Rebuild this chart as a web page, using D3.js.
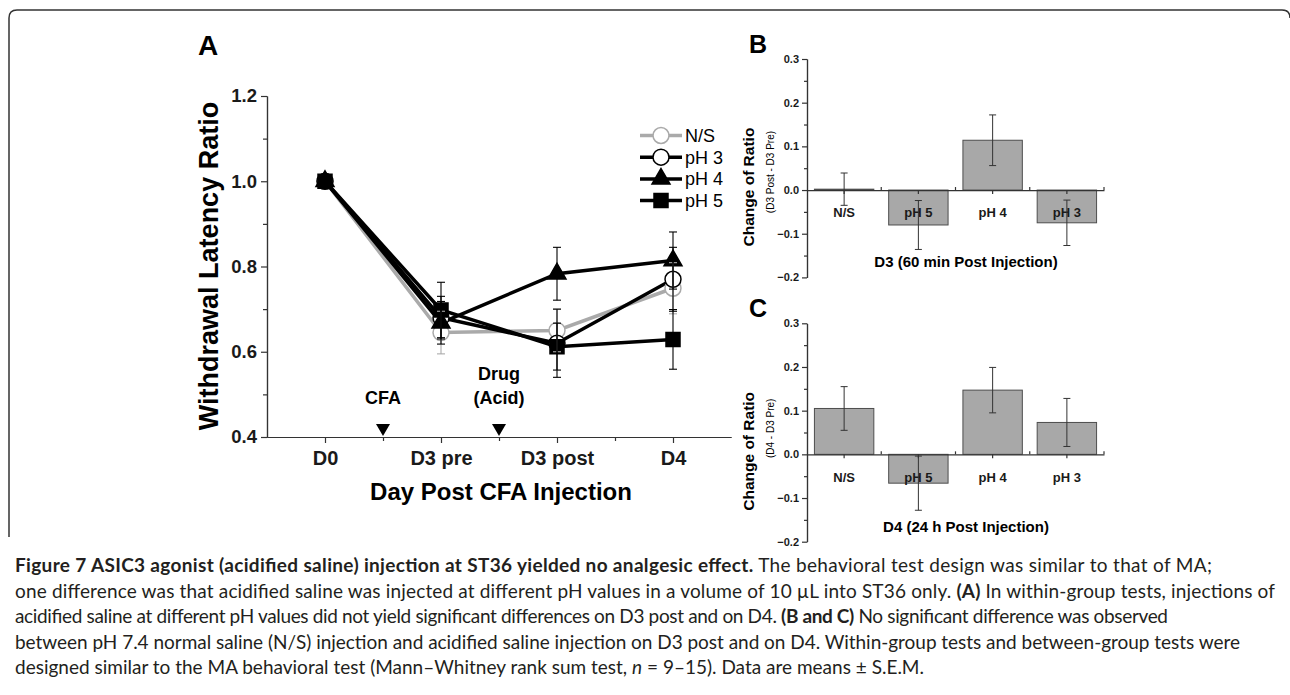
<!DOCTYPE html>
<html>
<head>
<meta charset="utf-8">
<script src="https://cdn.jsdelivr.net/npm/d3@7"></script>
<style>
body { margin: 0; background: #fff; }
svg { display: block; }
text { font-family: "Liberation Sans", Arial, sans-serif; }
.axis path, .axis line { stroke: #333; stroke-width: 1.2; }
.axis text { font-family: "Liberation Sans", Arial, sans-serif; font-weight: bold; fill: #1a1a1a; }
.caption text { font-family: Lato, "Open Sans", sans-serif; fill: #231f20; }
</style>
</head>
<body>
<svg id="fig" width="1290" height="695"></svg>
<script>
// Panel A: withdrawal latency ratio per day
const days = ["D0", "D3 pre", "D3 post", "D4"]
const groups = ["N/S", "pH 3", "pH 4", "pH 5"]
const nsMean  = [1.0, 0.645, 0.650, 0.749]
const nsErr   = [0.005, 0.050, 0.050, 0.060]
const ph3Mean = [1.0, 0.680, 0.620, 0.770]
const ph3Err  = [0.005, 0.050, 0.080, 0.075]
const ph4Mean = [1.0, 0.668, 0.783, 0.814]
const ph4Err  = [0.005, 0.050, 0.062, 0.067]
const ph5Mean = [1.0, 0.698, 0.612, 0.629]
const ph5Err  = [0.005, 0.065, 0.055, 0.070]
const yTicksA = [0.4, 0.6, 0.8, 1.0, 1.2]
const eventLabels = [["CFA"], ["Drug", "(Acid)"]]
const eventAt = [0.5, 1.5]

// Panels B and C: change of ratio per group
const barGroups = ["N/S", "pH 5", "pH 4", "pH 3"]
const d3ChangeMean = [0.002, -0.080, 0.114, -0.075]
const d3ChangeErr  = [0.037, 0.056, 0.058, 0.052]
const d4ChangeMean = [0.105, -0.066, 0.147, 0.073]
const d4ChangeErr  = [0.050, 0.062, 0.052, 0.055]
const yTicksBar = [-0.2, -0.1, 0.0, 0.1, 0.2, 0.3]

// caption lines (b = bold, r = regular, i = italic)
const captionLines = [
    [["b", "Figure 7 ASIC3 agonist (acidified saline) injection at ST36 yielded no analgesic effect."], ["r", " The behavioral test design was similar to that of MA;"]],
    [["r", "one difference was that acidified saline was injected at different pH values in a volume of 10 \u00b5L into ST36 only. "], ["b", "(A)"], ["r", " In within-group tests, injections of"]],
    [["r", "acidified saline at different pH values did not yield significant differences on D3 post and on D4. "], ["b", "(B and C)"], ["r", " No significant difference was observed"]],
    [["r", "between pH 7.4 normal saline (N/S) injection and acidified saline injection on D3 post and on D4. Within-group tests and between-group tests were"]],
    [["r", "designed similar to the MA behavioral test (Mann\u2013Whitney rank sum test, "], ["i", "n"], ["r", " = 9\u201315). Data are means \u00b1 S.E.M."]]
]
const captionEnd = [1273, 1275, 1148, 1240, 924]

const svg = d3.select("#fig")

// rounded frame around the figure
svg.append("path")
    .attr("d", "M9,537 V18 Q9,10 17,10 H1282 Q1290,10 1290,18")
    .attr("fill", "none").attr("stroke", "#333").attr("stroke-width", 1.5)

// ---------- Panel A ----------
const styles = {
    "N/S":  { color: "#aaaaaa", shape: d3.symbolCircle, size: 200, fill: "#fff" },
    "pH 3": { color: "#000", shape: d3.symbolCircle, size: 200, fill: "#fff" },
    "pH 4": { color: "#000", shape: d3.symbolTriangle, size: 140, fill: "#000" },
    "pH 5": { color: "#000", shape: d3.symbolSquare, size: 196, fill: "#000" },
}
const seriesA = [
    { name: "N/S", mean: nsMean, err: nsErr },
    { name: "pH 3", mean: ph3Mean, err: ph3Err },
    { name: "pH 4", mean: ph4Mean, err: ph4Err },
    { name: "pH 5", mean: ph5Mean, err: ph5Err },
]

const xA = d3.scaleLinear().domain([-0.5, 3.5]).range([267, 731])
const yA = d3.scaleLinear().domain([0.4, 1.2]).range([437, 96])
const gA = svg.append("g")

gA.append("g").attr("class", "axis").attr("transform", "translate(267,0)")
    .call(d3.axisLeft(yA).tickValues(d3.range(0.5, 1.2, 0.2)).tickSize(4).tickSizeOuter(0).tickFormat(""))
gA.append("g").attr("class", "axis").attr("transform", "translate(267,0)")
    .call(d3.axisLeft(yA).tickValues(yTicksA).tickSize(6).tickPadding(4).tickSizeOuter(0).tickFormat(d3.format(".1f")))
    .selectAll("text").style("font-size", "18.5px")

gA.append("g").attr("class", "axis").attr("transform", "translate(0,437)")
    .call(d3.axisBottom(xA).tickValues(eventAt.concat([2.5])).tickSize(4).tickSizeOuter(0).tickFormat(""))
gA.append("g").attr("class", "axis").attr("transform", "translate(0,437)")
    .call(d3.axisBottom(xA).tickValues(d3.range(days.length)).tickSize(6).tickPadding(8).tickSizeOuter(0).tickFormat(i => days[i]))
    .selectAll("text").style("font-size", "20px")

gA.append("text").attr("x", 501).attr("y", 500).attr("text-anchor", "middle")
    .style("font-size", "24px").style("font-weight", "bold").text("Day Post CFA Injection")
gA.append("text").attr("transform", "translate(218,266) rotate(-90)").attr("text-anchor", "middle")
    .style("font-size", "27px").style("font-weight", "bold").text("Withdrawal Latency Ratio")
gA.append("text").attr("x", 198).attr("y", 55)
    .style("font-size", "28px").style("font-weight", "bold").text("A")

// event arrows
eventAt.forEach((at, k) => {
    gA.append("path")
        .attr("d", d3.symbol(d3.symbolTriangle, 85)())
        .attr("transform", `translate(${xA(at)},428) rotate(180)`)
        .attr("fill", "#000")
    const lines = eventLabels[k]
    lines.forEach((t, j) => {
        gA.append("text").attr("x", xA(at)).attr("y", 404 - (lines.length - 1 - j) * 24)
            .attr("text-anchor", "middle").style("font-size", "18px").style("font-weight", "bold").text(t)
    })
})

const line = d3.line().x((d, i) => xA(i)).y(d => yA(d))
seriesA.forEach(s => {
    gA.append("path").datum(s.mean).attr("d", line)
        .attr("fill", "none").attr("stroke", styles[s.name].color).attr("stroke-width", 3.5)
})
seriesA.forEach(s => {
    const st = styles[s.name]
    gA.append("g").selectAll("path").data(s.mean).join("path")
        .attr("d", d3.symbol(st.shape, st.size)())
        .attr("transform", (d, i) => `translate(${xA(i)},${yA(d)})`)
        .attr("fill", st.fill).attr("stroke", st.color).attr("stroke-width", 1.5)
})
seriesA.forEach(s => {
    const col = styles[s.name].color
    const eb = gA.append("g").attr("stroke", col).attr("stroke-width", 1.1)
    s.mean.forEach((m, i) => {
        if (i === 0) return
        const cx = xA(i)
        eb.append("line").attr("x1", cx).attr("x2", cx).attr("y1", yA(m - s.err[i])).attr("y2", yA(m + s.err[i]))
        eb.append("line").attr("x1", cx - 4).attr("x2", cx + 4).attr("y1", yA(m - s.err[i])).attr("y2", yA(m - s.err[i]))
        eb.append("line").attr("x1", cx - 4).attr("x2", cx + 4).attr("y1", yA(m + s.err[i])).attr("y2", yA(m + s.err[i]))
    })
})

// legend
const legend = gA.append("g")
groups.forEach((name, i) => {
    const st = styles[name]
    const ly = 135.5 + i * 21.7
    legend.append("line").attr("x1", 640).attr("x2", 682).attr("y1", ly).attr("y2", ly)
        .attr("stroke", st.color).attr("stroke-width", 3.5)
    legend.append("path").attr("d", d3.symbol(st.shape, st.size)())
        .attr("transform", `translate(661,${ly})`)
        .attr("fill", st.fill).attr("stroke", st.color).attr("stroke-width", 1.5)
    legend.append("text").attr("x", 685).attr("y", ly + 6.5).style("font-size", "18px").text(name)
})

// ---------- Panels B and C ----------
function barPanel(letter, means, errs, yTop, title, subtitle, subCenter) {
    const g = svg.append("g")
    const x = d3.scaleBand().domain(barGroups).range([807, 1104]).paddingInner(0.2).paddingOuter(0.1)
    const y = d3.scaleLinear().domain([-0.2, 0.3]).range([yTop + 218.4, yTop])

    g.append("g").attr("class", "axis").attr("transform", "translate(807,0)")
        .call(d3.axisLeft(y).tickValues(d3.range(-0.15, 0.3, 0.1)).tickSize(3).tickSizeOuter(0).tickFormat(""))
    g.append("g").attr("class", "axis").attr("transform", "translate(807,0)")
        .call(d3.axisLeft(y).tickValues(yTicksBar).tickSize(5).tickPadding(3).tickSizeOuter(0).tickFormat(d3.format(".1f")))
        .selectAll("text").style("font-size", "11px")

    g.selectAll("rect").data(means).join("rect")
        .attr("x", (d, i) => x(barGroups[i]))
        .attr("width", x.bandwidth())
        .attr("y", d => y(Math.max(0, d)))
        .attr("height", d => Math.abs(y(d) - y(0)))
        .attr("fill", "#a8a8a8").attr("stroke", "#4d4d4d").attr("stroke-width", 1)

    const xAxis = g.append("g").attr("class", "axis").attr("transform", `translate(0,${y(0)})`)
        .call(d3.axisBottom(x).tickSize(4).tickPadding(14).tickSizeOuter(0))
    xAxis.selectAll("text").style("font-size", "13px")
    g.append("g").attr("class", "axis").selectAll("line")
        .data(d3.range(1, barGroups.length + 1)).join("line")
        .attr("x1", k => 807 + k * x.step()).attr("x2", k => 807 + k * x.step())
        .attr("y1", y(0)).attr("y2", y(0) - 3)

    const eb = g.append("g").attr("stroke", "#333").attr("stroke-width", 1)
    means.forEach((m, i) => {
        const cx = x(barGroups[i]) + x.bandwidth() / 2
        eb.append("line").attr("x1", cx).attr("x2", cx).attr("y1", y(m - errs[i])).attr("y2", y(m + errs[i]))
        eb.append("line").attr("x1", cx - 3.5).attr("x2", cx + 3.5).attr("y1", y(m - errs[i])).attr("y2", y(m - errs[i]))
        eb.append("line").attr("x1", cx - 3.5).attr("x2", cx + 3.5).attr("y1", y(m + errs[i])).attr("y2", y(m + errs[i]))
    })

    g.append("text").attr("x", 966).attr("y", y(-0.2) - 10).attr("text-anchor", "middle")
        .style("font-size", "15px").style("font-weight", "bold").text(title)
    g.append("text").attr("transform", `translate(754,${y(0) - 3}) rotate(-90)`).attr("text-anchor", "middle")
        .style("font-size", "15.5px").style("font-weight", "bold").text("Change of Ratio")
    g.append("text").attr("transform", `translate(774,${y(0) + subCenter}) rotate(-90)`).attr("text-anchor", "middle")
        .style("font-size", "10px").text(subtitle)
    g.append("text").attr("x", 749).attr("y", yTop - 6)
        .style("font-size", "25px").style("font-weight", "bold").text(letter)
}

barPanel("B", d3ChangeMean, d3ChangeErr, 59, "D3 (60 min Post Injection)", "(D3 Post - D3 Pre)", -18)
barPanel("C", d4ChangeMean, d4ChangeErr, 323.3, "D4 (24 h Post Injection)", "(D4 - D3 Pre)", -26)

// ---------- Caption ----------
const cap = svg.append("g").attr("class", "caption")
const capTexts = captionLines.map((parts, i) => {
    const t = cap.append("text").attr("x", 15).attr("y", 572 + i * 25.5).style("font-size", "16px")
    parts.forEach(([kind, str]) => {
        t.append("tspan")
            .style("font-weight", kind === "b" ? "bold" : "normal")
            .style("font-style", kind === "i" ? "italic" : "normal")
            .text(str)
    })
    return t
})
const ratios = capTexts.map((t, i) => (captionEnd[i] - 15) / t.node().getComputedTextLength())
const fs = 16 * d3.median(ratios)
capTexts.forEach(t => t.style("font-size", fs + "px"))
// only nudge the letter spacing, keep glyphs natural
capTexts.forEach((t, i) => {
    const natural = t.node().getComputedTextLength()
    const w = Math.max(natural * 0.96, Math.min(natural * 1.04, captionEnd[i] - 15))
    t.attr("textLength", w).attr("lengthAdjust", "spacing")
})
</script>
</body>
</html>
